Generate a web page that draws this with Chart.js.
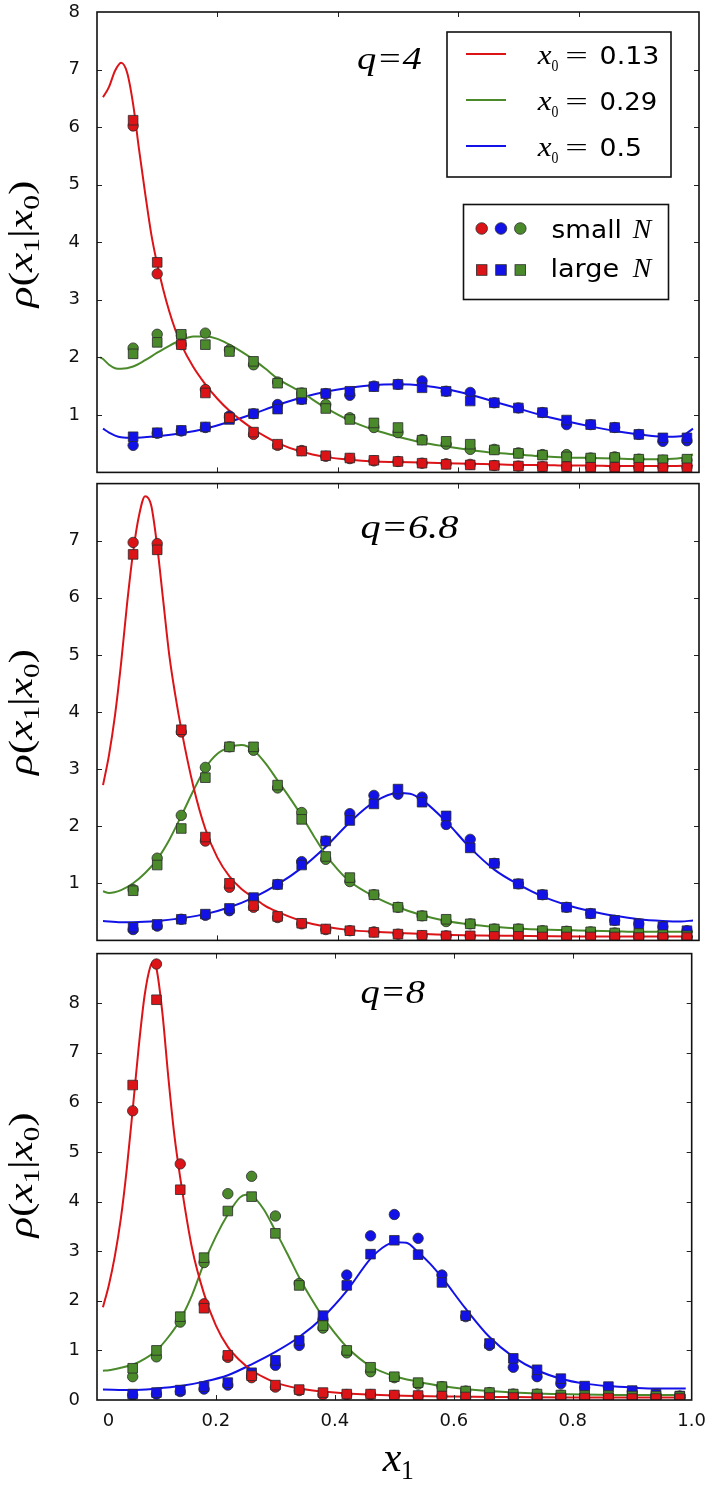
<!DOCTYPE html>
<html>
<head>
<meta charset="utf-8">
<script src="https://cdn.jsdelivr.net/npm/chart.js@4/dist/chart.umd.min.js"></script>
<style>
html,body{margin:0;padding:0;background:#fff;}
#wrap{position:relative;width:717px;height:1499px;overflow:hidden;background:#fff;}
canvas{position:absolute;left:0;}
</style>
</head>
<body>
<div id="wrap">
  <canvas id="c1" width="717" height="480" style="top:0px"></canvas>
  <canvas id="c2" width="717" height="472" style="top:476px"></canvas>
  <canvas id="c3" width="717" height="553" style="top:946px"></canvas>
</div>
<script>
// ---------------- DATA ----------------
const dataX = [0.06,0.10,0.14,0.18,0.22,0.26,0.30,0.34,0.38,0.42,0.46,0.50,0.54,0.58,0.62,0.66,0.70,0.74,0.78,0.82,0.86,0.90,0.94,0.98];
const xTickLabels = ['0','0.2','0.4','0.6','0.8','1.0'];
const curveLabels = ['0.13','0.29','0.5'];
const panelLabels = ['q=4','q=6.8','q=8'];
const yLabelsQ4 = [1,2,3,4,5,6,7,8];
const yLabelsQ68 = [1,2,3,4,5,6,7];
const yLabelsQ8 = [0,1,2,3,4,5,6,7,8];

// q = 4
const q4RedCurveX = [0.01,0.02,0.03,0.04,0.05,0.06,0.07,0.08,0.09,0.10,0.11,0.12,0.13,0.14,0.16,0.18,0.20,0.22,0.24,0.26,0.28,0.30,0.34,0.38,0.42,0.46,0.50,0.54,0.58,0.62,0.66,0.70,0.74,0.78,0.82,0.86,0.90,0.94,0.99];
const q4RedCurveY = [6.52,6.70,6.98,7.12,6.95,6.40,5.60,4.85,4.15,3.62,3.18,2.80,2.48,2.22,1.83,1.53,1.28,1.07,0.90,0.75,0.62,0.51,0.36,0.27,0.22,0.19,0.18,0.17,0.16,0.15,0.14,0.13,0.13,0.12,0.12,0.11,0.11,0.11,0.12];
const q4GreenCurveX = [0.005,0.01,0.02,0.03,0.04,0.06,0.08,0.10,0.12,0.14,0.16,0.18,0.20,0.22,0.24,0.26,0.28,0.30,0.34,0.38,0.42,0.46,0.50,0.54,0.58,0.62,0.66,0.70,0.74,0.78,0.82,0.86,0.90,0.94,0.97,0.99];
const q4GreenCurveY = [2.00,1.97,1.87,1.81,1.80,1.84,1.95,2.08,2.20,2.30,2.36,2.36,2.32,2.22,2.10,1.96,1.80,1.63,1.39,1.12,0.90,0.74,0.62,0.52,0.45,0.39,0.34,0.31,0.28,0.26,0.25,0.24,0.23,0.23,0.25,0.31];
const q4BlueCurveX = [0.01,0.02,0.03,0.04,0.06,0.10,0.14,0.18,0.22,0.26,0.30,0.34,0.38,0.42,0.46,0.50,0.54,0.58,0.62,0.66,0.70,0.74,0.78,0.82,0.86,0.90,0.94,0.97,0.99];
const q4BlueCurveY = [0.76,0.69,0.64,0.61,0.60,0.63,0.68,0.76,0.88,1.02,1.17,1.30,1.40,1.47,1.52,1.53,1.51,1.45,1.35,1.23,1.11,0.99,0.89,0.80,0.72,0.66,0.62,0.63,0.76];
const q4RedSmall   = [6.02,3.45,2.22,1.44,0.95,0.66,0.47,0.38,0.28,0.24,0.20,0.19,0.16,0.15,0.14,0.12,0.11,0.10,0.10,0.09,0.09,0.09,0.09,0.09];
const q4RedLarge   = [6.12,3.65,2.22,1.38,0.95,0.70,0.49,0.37,0.29,0.25,0.21,0.19,0.16,0.14,0.13,0.12,0.11,0.10,0.10,0.09,0.09,0.09,0.08,0.08];
const q4GreenSmall = [2.16,2.40,2.38,2.42,2.13,1.87,1.57,1.38,1.18,0.95,0.78,0.69,0.57,0.49,0.40,0.40,0.34,0.31,0.31,0.25,0.27,0.23,0.21,0.21];
const q4GreenLarge = [2.06,2.26,2.40,2.22,2.10,1.93,1.55,1.38,1.11,0.92,0.86,0.78,0.56,0.54,0.49,0.39,0.33,0.30,0.27,0.25,0.26,0.23,0.22,0.23];
const q4BlueSmall  = [0.47,0.68,0.72,0.78,0.98,1.02,1.18,1.27,1.37,1.34,1.50,1.53,1.59,1.41,1.39,1.21,1.12,1.04,0.83,0.83,0.78,0.66,0.54,0.55];
const q4BlueLarge  = [0.62,0.69,0.73,0.79,0.92,1.02,1.10,1.27,1.37,1.41,1.49,1.53,1.47,1.41,1.24,1.21,1.12,1.04,0.91,0.83,0.78,0.66,0.60,0.60];

// q = 6.8
const q68RedCurveX = [0.01,0.02,0.03,0.04,0.05,0.06,0.07,0.08,0.09,0.10,0.11,0.12,0.13,0.14,0.16,0.18,0.20,0.22,0.24,0.26,0.28,0.30,0.34,0.38,0.42,0.46,0.50,0.58,0.70,0.80,0.90,0.99];
const q68RedCurveY = [2.72,3.25,3.95,4.85,5.90,6.80,7.45,7.78,7.62,6.90,5.95,5.00,4.30,3.70,2.70,1.95,1.45,1.12,0.90,0.75,0.60,0.50,0.34,0.24,0.18,0.15,0.13,0.10,0.08,0.07,0.07,0.07];
const q68GreenCurveX = [0.01,0.02,0.04,0.06,0.08,0.10,0.12,0.14,0.16,0.18,0.20,0.22,0.24,0.26,0.28,0.30,0.32,0.34,0.36,0.38,0.40,0.42,0.46,0.50,0.54,0.58,0.62,0.66,0.70,0.74,0.78,0.82,0.86,0.90,0.94,0.99];
const q68GreenCurveY = [0.86,0.83,0.88,1.00,1.18,1.42,1.76,2.18,2.62,3.02,3.27,3.38,3.42,3.33,3.10,2.80,2.50,2.18,1.83,1.50,1.24,1.03,0.77,0.58,0.44,0.34,0.28,0.24,0.21,0.19,0.18,0.17,0.16,0.15,0.15,0.15];
const q68BlueCurveX = [0.01,0.04,0.06,0.10,0.14,0.18,0.22,0.26,0.30,0.34,0.38,0.42,0.46,0.50,0.52,0.54,0.58,0.62,0.66,0.70,0.74,0.78,0.82,0.86,0.90,0.94,0.97,0.99];
const q68BlueCurveY = [0.34,0.32,0.32,0.34,0.39,0.46,0.58,0.75,0.98,1.27,1.64,2.07,2.42,2.58,2.57,2.46,2.08,1.62,1.24,0.98,0.77,0.62,0.51,0.43,0.37,0.34,0.33,0.35];
const q68RedSmall   = [6.97,6.95,3.65,1.74,0.93,0.58,0.40,0.29,0.19,0.17,0.15,0.11,0.08,0.08,0.07,0.07,0.06,0.06,0.06,0.06,0.05,0.05,0.05,0.05];
const q68RedLarge   = [6.76,6.84,3.69,1.81,1.00,0.61,0.42,0.30,0.20,0.17,0.14,0.11,0.09,0.08,0.08,0.07,0.07,0.06,0.06,0.06,0.06,0.05,0.05,0.05];
const q68GreenSmall = [0.89,1.44,2.19,3.03,3.39,3.33,2.67,2.24,1.42,1.03,0.80,0.58,0.43,0.33,0.29,0.20,0.20,0.17,0.16,0.15,0.13,0.10,0.08,0.05];
const q68GreenLarge = [0.87,1.32,1.96,2.85,3.39,3.39,2.72,2.12,1.47,1.10,0.80,0.58,0.43,0.37,0.29,0.20,0.20,0.17,0.16,0.15,0.13,0.12,0.10,0.08];
const q68BlueSmall  = [0.19,0.25,0.37,0.44,0.52,0.72,0.98,1.38,1.74,2.22,2.54,2.56,2.51,2.03,1.77,1.35,0.99,0.80,0.58,0.47,0.35,0.29,0.24,0.17];
const q68BlueLarge  = [0.23,0.28,0.37,0.46,0.56,0.75,0.98,1.32,1.74,2.10,2.39,2.65,2.42,2.18,1.62,1.35,0.99,0.80,0.58,0.47,0.35,0.29,0.24,0.17];

// q = 8
const q8RedCurveX = [0.01,0.02,0.03,0.04,0.05,0.06,0.07,0.08,0.09,0.095,0.10,0.11,0.12,0.13,0.14,0.16,0.18,0.20,0.22,0.24,0.26,0.28,0.30,0.34,0.38,0.42,0.50,0.60,0.70,0.80,0.99];
const q8RedCurveY = [1.87,2.32,2.90,3.65,4.65,5.85,7.10,8.15,8.75,8.82,8.70,7.80,6.50,5.35,4.48,3.05,2.14,1.50,1.07,0.80,0.60,0.46,0.35,0.23,0.17,0.13,0.09,0.07,0.06,0.05,0.05];
const q8GreenCurveX = [0.01,0.02,0.04,0.06,0.08,0.10,0.12,0.14,0.16,0.18,0.20,0.22,0.24,0.25,0.26,0.28,0.30,0.32,0.34,0.36,0.38,0.40,0.42,0.46,0.50,0.54,0.58,0.62,0.66,0.70,0.74,0.78,0.82,0.90,0.99];
const q8GreenCurveY = [0.59,0.60,0.65,0.71,0.83,1.00,1.27,1.62,2.12,2.76,3.30,3.74,4.08,4.14,4.12,3.85,3.41,2.95,2.47,2.05,1.67,1.35,1.07,0.68,0.48,0.37,0.28,0.22,0.18,0.15,0.13,0.12,0.11,0.10,0.10];
const q8BlueCurveX = [0.01,0.06,0.10,0.14,0.18,0.22,0.26,0.30,0.34,0.38,0.42,0.46,0.48,0.50,0.52,0.54,0.56,0.58,0.62,0.66,0.70,0.74,0.78,0.82,0.86,0.90,0.94,0.99];
const q8BlueCurveY = [0.21,0.20,0.23,0.28,0.37,0.50,0.72,0.97,1.27,1.67,2.20,2.85,3.07,3.18,3.17,2.98,2.75,2.47,1.84,1.27,0.87,0.60,0.43,0.33,0.28,0.25,0.23,0.23];
const q8RedSmall   = [5.83,8.79,4.76,1.94,0.86,0.45,0.26,0.19,0.11,0.11,0.11,0.09,0.08,0.08,0.05,0.05,0.04,0.04,0.04,0.03,0.03,0.03,0.03,0.03];
const q8RedLarge   = [6.35,8.07,4.24,1.85,0.90,0.49,0.30,0.21,0.15,0.12,0.12,0.10,0.09,0.08,0.06,0.05,0.05,0.04,0.04,0.04,0.04,0.03,0.03,0.03];
const q8GreenSmall = [0.47,0.87,1.57,2.77,4.16,4.51,3.71,2.35,1.45,0.95,0.57,0.45,0.32,0.27,0.18,0.15,0.12,0.12,0.10,0.09,0.09,0.08,0.07,0.07];
const q8GreenLarge = [0.64,1.00,1.68,2.87,3.81,4.10,3.36,2.31,1.50,1.00,0.66,0.47,0.35,0.27,0.18,0.15,0.12,0.12,0.10,0.09,0.09,0.08,0.08,0.07];
const q8BlueSmall  = [0.10,0.12,0.17,0.22,0.30,0.50,0.70,1.10,1.62,2.52,3.31,3.74,3.26,2.52,1.68,1.10,0.66,0.47,0.33,0.25,0.25,0.17,0.10,0.08];
const q8BlueLarge  = [0.12,0.15,0.20,0.27,0.35,0.55,0.80,1.20,1.70,2.31,2.94,3.22,2.93,2.37,1.70,1.14,0.84,0.61,0.43,0.28,0.27,0.19,0.12,0.08];

// ---------------- STYLE ----------------
const RED = '#dc1418', GREEN = '#4a8a2b', BLUE = '#1212e8';
const EDGE = '#2a2a2a';
const SERIF = '"Liberation Serif", "DejaVu Serif", serif';
const SANS = '"DejaVu Sans", sans-serif';

function lineDS(xs, ys, color) {
  return { data: xs.map((x, i) => ({ x: x, y: ys[i] })), showLine: true, borderColor: color,
    borderWidth: 2, pointRadius: 0, pointHoverRadius: 0, cubicInterpolationMode: 'monotone', order: 3 };
}
function dotDS(ys, color) {
  return { data: dataX.map((x, i) => ({ x: x, y: ys[i] })), showLine: false, pointStyle: 'circle',
    pointRadius: 5.2, pointBackgroundColor: color, pointBorderColor: EDGE, pointBorderWidth: 0.8, order: 2 };
}
function sqDS(ys, color) {
  return { data: dataX.map((x, i) => ({ x: x, y: ys[i] })), showLine: false, pointStyle: 'rect',
    pointRadius: 6.8, pointBackgroundColor: color, pointBorderColor: EDGE, pointBorderWidth: 0.8, order: 1 };
}

// draw text whose ink starts at x and spans width w (horizontal stretch only)
function inkText(ctx, text, font, x, base, w, color) {
  ctx.save();
  ctx.font = font; ctx.fillStyle = color || '#000';
  ctx.textAlign = 'left'; ctx.textBaseline = 'alphabetic';
  const m = ctx.measureText(text);
  const ink = m.actualBoundingBoxLeft + m.actualBoundingBoxRight;
  const s = w ? w / ink : 1;
  ctx.translate(x, base); ctx.scale(s, 1);
  ctx.fillText(text, m.actualBoundingBoxLeft, 0);
  ctx.restore();
}

function drawYTitle(ctx, cx, cy, len) {
  const pieces = [
    ['\u03C1', 'italic 34px ' + SERIF, 0],
    ['(', '34px ' + SERIF, 0],
    ['x', 'italic 34px ' + SERIF, 0],
    ['1', '23px ' + SERIF, 7],
    ['|', '34px ' + SERIF, 0],
    ['x', 'italic 34px ' + SERIF, 0],
    ['0', '23px ' + SERIF, 7],
    [')', '34px ' + SERIF, 0]
  ];
  ctx.save();
  ctx.fillStyle = '#000'; ctx.textAlign = 'left'; ctx.textBaseline = 'alphabetic';
  let total = 0;
  const ws = pieces.map(p => { ctx.font = p[1]; const w = ctx.measureText(p[0]).width; total += w; return w; });
  const s = len / total;
  ctx.translate(cx, cy); ctx.rotate(-Math.PI / 2); ctx.scale(s, 1);
  let pos = -total / 2;
  pieces.forEach((p, i) => { ctx.font = p[1]; ctx.fillText(p[0], pos, p[2]); pos += ws[i]; });
  ctx.restore();
}

const framePlugin = {
  id: 'frame',
  afterDatasetsDraw(chart) {
    const ctx = chart.ctx, a = chart.chartArea, xs = chart.scales.x, ys = chart.scales.y;
    ctx.save();
    ctx.strokeStyle = '#222'; ctx.lineWidth = 1;
    ctx.beginPath();
    xs.ticks.forEach(t => {
      const p = Math.round(xs.getPixelForValue(t.value)) + 0.5;
      if (p <= a.left + 2 || p >= a.right - 2) return;
      ctx.moveTo(p, a.bottom); ctx.lineTo(p, a.bottom - 5);
      ctx.moveTo(p, a.top); ctx.lineTo(p, a.top + 5);
    });
    ys.ticks.forEach(t => {
      const p = Math.round(ys.getPixelForValue(t.value)) + 0.5;
      if (p <= a.top + 2 || p >= a.bottom - 2) return;
      ctx.moveTo(a.left, p); ctx.lineTo(a.left + 5, p);
      ctx.moveTo(a.right, p); ctx.lineTo(a.right - 5, p);
    });
    ctx.stroke();
    ctx.strokeStyle = '#111'; ctx.lineWidth = 1.6;
    ctx.strokeRect(a.left, a.top, a.right - a.left, a.bottom - a.top);
    ctx.restore();
  }
};

function makePanel(id, o) {
  const tickFont = { family: SANS, size: 18 };
  return new Chart(document.getElementById(id), {
    type: 'scatter',
    data: { datasets: o.datasets },
    options: {
      responsive: false, animation: false, devicePixelRatio: 1, events: [],
      layout: { padding: { top: o.padTop, right: 18, bottom: 0, left: 0 } },
      plugins: { legend: { display: false }, tooltip: { enabled: false } },
      scales: {
        x: {
          type: 'linear', min: 0, max: 1,
          ticks: { stepSize: 0.2, display: o.showX, font: tickFont, color: '#111', padding: 11, maxRotation: 0,
            callback: (v, i) => { const s = xTickLabels[i] || ''; return s === '0' ? '\u2007\u20070' : s; } },
          grid: { display: false, drawTicks: false }, border: { display: false },
          afterFit: a => { a.height = o.xH; }
        },
        y: {
          type: 'linear', min: 0, max: o.ymax,
          ticks: { stepSize: 1, font: tickFont, color: '#111', padding: 17,
            callback: v => o.yLabels.includes(v) ? String(v) : '' },
          grid: { display: false, drawTicks: false }, border: { display: false },
          afterFit: a => { a.width = 97; a.paddingTop = 0; a.paddingBottom = 0; }
        }
      }
    },
    plugins: [framePlugin, { id: 'txt' + id, afterDraw: o.afterDraw }]
  });
}

// panel 1 : q = 4
makePanel('c1', {
  padTop: 12, xH: 7, ymax: 8, yLabels: yLabelsQ4, showX: false,
  datasets: [
    lineDS(q4RedCurveX, q4RedCurveY, RED), lineDS(q4GreenCurveX, q4GreenCurveY, GREEN), lineDS(q4BlueCurveX, q4BlueCurveY, BLUE),
    dotDS(q4RedSmall, RED), dotDS(q4GreenSmall, GREEN), dotDS(q4BlueSmall, BLUE),
    sqDS(q4RedLarge, RED), sqDS(q4GreenLarge, GREEN), sqDS(q4BlueLarge, BLUE)
  ],
  afterDraw(chart) {
    const ctx = chart.ctx;
    drawYTitle(ctx, 31.5, 244, 127);
    inkText(ctx, panelLabels[0], 'italic 32px ' + SERIF, 358.3, 69, 63.4);
    // legend 1
    ctx.save();
    ctx.fillStyle = '#fff'; ctx.fillRect(447, 32, 224, 145);
    ctx.strokeStyle = '#111'; ctx.lineWidth = 1.6; ctx.strokeRect(447, 32, 224, 145);
    const cols = [RED, GREEN, BLUE], lys = [54, 100, 146], digW = [57.3, 55.3, 40];
    for (let i = 0; i < 3; i++) {
      ctx.strokeStyle = cols[i]; ctx.lineWidth = 2.2;
      ctx.beginPath(); ctx.moveTo(466, lys[i]); ctx.lineTo(506, lys[i]); ctx.stroke();
      const b = lys[i] + 9.5;
      inkText(ctx, 'x', 'italic 27px ' + SERIF, 536.7, b, 15);
      inkText(ctx, '0', '17px ' + SERIF, 551.5, b + 7, 6.5);
      inkText(ctx, '=', '24px ' + SERIF, 567, b - 1, 20);
      inkText(ctx, curveLabels[i], '24px ' + SANS, 600.7, b, digW[i]);
    }
    // legend 2
    ctx.fillStyle = '#fff'; ctx.fillRect(463.5, 204.5, 205, 95);
    ctx.strokeStyle = '#111'; ctx.lineWidth = 1.6; ctx.strokeRect(463.5, 204.5, 205, 95);
    const mcols = [RED, BLUE, GREEN], mxs = [481.7, 501, 520.3];
    ctx.lineWidth = 0.8; ctx.strokeStyle = EDGE;
    for (let i = 0; i < 3; i++) {
      ctx.fillStyle = mcols[i];
      ctx.beginPath(); ctx.arc(mxs[i], 228.5, 5.8, 0, Math.PI * 2); ctx.fill(); ctx.stroke();
      ctx.fillRect(mxs[i] - 5.3, 270 - 5.3, 10.6, 10.6); ctx.strokeRect(mxs[i] - 5.3, 270 - 5.3, 10.6, 10.6);
    }
    ctx.restore();
    inkText(ctx, 'small', '24px ' + SANS, 552.7, 238, 67.3);
    inkText(ctx, 'N', 'italic 27px ' + SERIF, 631.7, 238, 21.6);
    inkText(ctx, 'large', '24px ' + SANS, 552.7, 277, 65.6);
    inkText(ctx, 'N', 'italic 27px ' + SERIF, 631.7, 277, 21.6);
  }
});

// panel 2 : q = 6.8  (canvas top = 476)
makePanel('c2', {
  padTop: 5, xH: 5, ymax: 8, yLabels: yLabelsQ68, showX: false,
  datasets: [
    lineDS(q68RedCurveX, q68RedCurveY, RED), lineDS(q68GreenCurveX, q68GreenCurveY, GREEN), lineDS(q68BlueCurveX, q68BlueCurveY, BLUE),
    dotDS(q68RedSmall, RED), dotDS(q68GreenSmall, GREEN), dotDS(q68BlueSmall, BLUE),
    sqDS(q68RedLarge, RED), sqDS(q68GreenLarge, GREEN), sqDS(q68BlueLarge, BLUE)
  ],
  afterDraw(chart) {
    const ctx = chart.ctx;
    drawYTitle(ctx, 31.5, 712 - 476, 126);
    inkText(ctx, panelLabels[1], 'italic 34px ' + SERIF, 361.7, 538 - 476, 96.6);
  }
});

// panel 3 : q = 8  (canvas top = 946)
makePanel('c3', {
  padTop: 6, xH: 99, ymax: 9, yLabels: yLabelsQ8, showX: true,
  datasets: [
    lineDS(q8RedCurveX, q8RedCurveY, RED), lineDS(q8GreenCurveX, q8GreenCurveY, GREEN), lineDS(q8BlueCurveX, q8BlueCurveY, BLUE),
    dotDS(q8RedSmall, RED), dotDS(q8GreenSmall, GREEN), dotDS(q8BlueSmall, BLUE),
    sqDS(q8RedLarge, RED), sqDS(q8GreenLarge, GREEN), sqDS(q8BlueLarge, BLUE)
  ],
  afterDraw(chart) {
    const ctx = chart.ctx;
    drawYTitle(ctx, 31.5, 1175 - 946, 125);
    inkText(ctx, panelLabels[2], 'italic 34px ' + SERIF, 361.7, 1003 - 946, 63.3);
    inkText(ctx, 'x', 'italic 40px ' + SERIF, 381.7, 1471 - 946, 20);
    inkText(ctx, '1', '27px ' + SERIF, 403, 1479 - 946, 9.5);
  }
});
</script>
</body>
</html>
